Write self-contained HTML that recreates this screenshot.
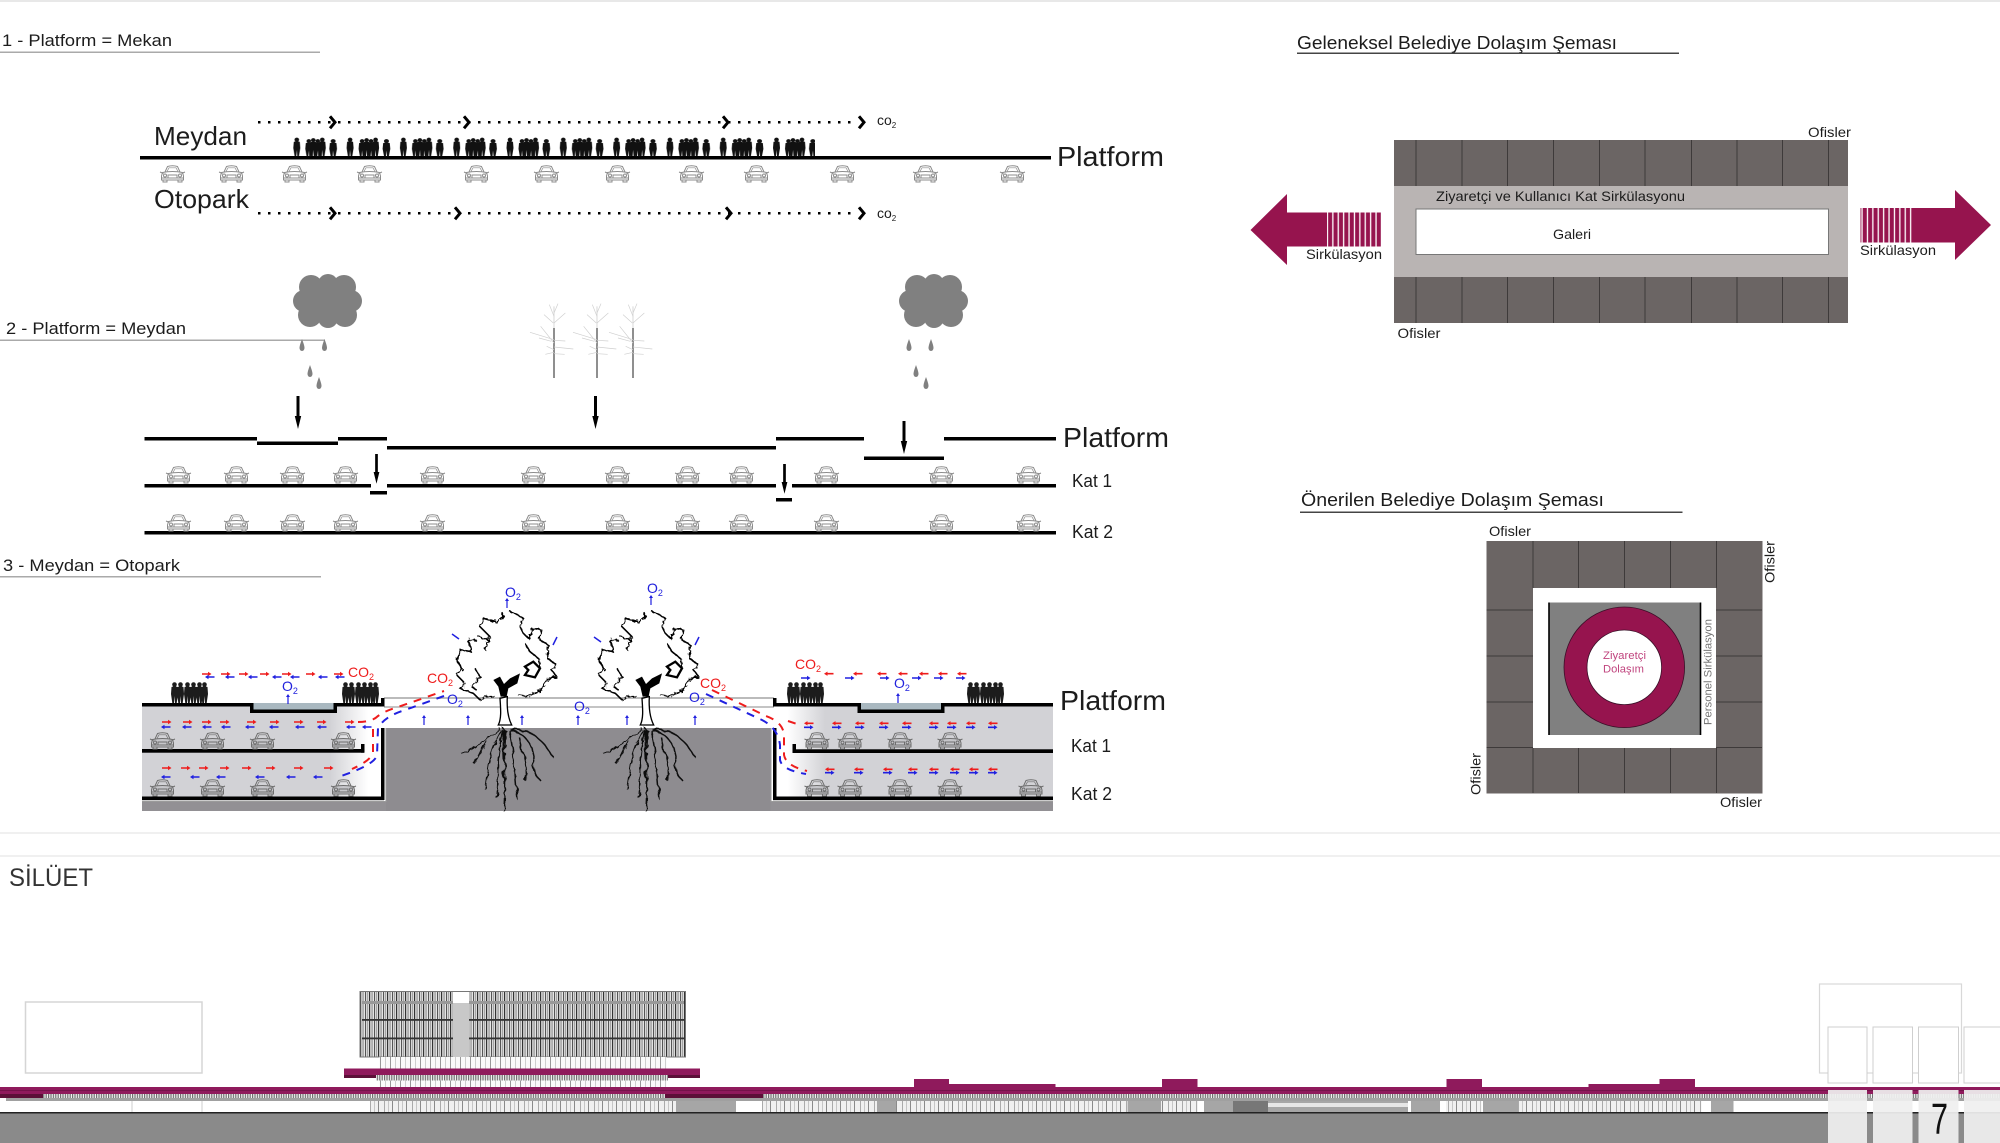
<!DOCTYPE html>
<html><head><meta charset="utf-8"><title>Platform diagram</title>
<style>html,body{margin:0;padding:0;background:#fff}svg{display:block}text{font-family:"Liberation Sans",sans-serif;fill:#1c1c1c}</style>
</head><body>
<svg width="2000" height="1143" viewBox="0 0 2000 1143" xmlns="http://www.w3.org/2000/svg">
<defs>
<g id="car" stroke-width="1">
<path fill="none" d="M5 7 L7.500 1.500 Q12.500 0 17.500 1.500 L20 7"/>
<path d="M2.500 7.500 Q12.500 5.500 22.500 7.500 L23.500 11 V15 H1.500 V11Z"/>
<path fill="none" d="M7 6.500 L9 2.800 H16 L18 6.500" stroke-width=".7"/>
<path fill="none" d="M0 7 L3.500 8.500 M25 7 L21.500 8.500 M8 10 H17 V13 H8Z M2 13 H23"/>
<circle cx="5" cy="10.500" r="1.500" fill="none"/><circle cx="20" cy="10.500" r="1.500" fill="none"/>
<path fill="none" d="M3 15 V17 H7 V15 M18 15 V17 H22 V15"/>
</g>
<g id="p"><circle cx="3.500" cy="2.500" r="2.300"/><path d="M0.500 5 Q3.500 3.500 6.500 5 L7 12 L5.700 21 H4 L3.500 14 L3 21 H1.300 L0 12Z"/></g>
<pattern id="crowd" x="293.300" y="137.500" width="53.300" height="19" patternUnits="userSpaceOnUse">
<g fill="#111"><use href="#p" transform="translate(0,0) scale(1,.88)"/><use href="#p" transform="translate(12,1.500) scale(1,.82)"/><use href="#p" transform="translate(16.500,0.500) scale(1,.86)"/><use href="#p" transform="translate(21,1.500) scale(1,.82)"/><use href="#p" transform="translate(25.500,0) scale(1,.88)"/><use href="#p" transform="translate(36,1.500) scale(1.100,.82)"/></g>
</pattern>
<pattern id="stripeW" width="5.400" height="10" patternUnits="userSpaceOnUse"><rect width="5.400" height="10" fill="#96144e"/><rect x="3.800" width="1.300" height="10" fill="#fff"/></pattern>
<pattern id="facade" x="360" width="9" height="10" patternUnits="userSpaceOnUse"><rect width="9" height="10" fill="#e4e4e4"/><rect x="0" width="1.200" height="10" fill="#333"/><rect x="2.600" width=".9" height="10" fill="#777"/><rect x="5" width="1.100" height="10" fill="#555"/><rect x="7.300" width=".8" height="10" fill="#888"/></pattern>
<pattern id="louver" width="2.400" height="10" patternUnits="userSpaceOnUse"><rect width="2.400" height="10" fill="#f4f4f4"/><rect width="1.200" height="10" fill="#6f6f6f"/></pattern>
<pattern id="store" width="14" height="12" patternUnits="userSpaceOnUse"><rect width="14" height="12" fill="#f0f0f0"/><rect width="1" height="12" fill="#8a8a8a"/><rect x="6" width="1" height="12" fill="#aaa"/><rect x="10" width=".8" height="12" fill="#bbb"/></pattern>
<pattern id="col" width="10" height="12" patternUnits="userSpaceOnUse"><rect width="10" height="12" fill="#fafafa"/><rect width="1" height="12" fill="#999"/><rect x="5" width=".7" height="12" fill="#bbb"/></pattern>
<linearGradient id="glowL" x1="0" x2="1" y1="0" y2="0"><stop offset="0" stop-color="#d2d2d6"/><stop offset=".75" stop-color="#fff"/><stop offset="1" stop-color="#fff"/></linearGradient>
<linearGradient id="glowR" x1="1" x2="0" y1="0" y2="0"><stop offset="0" stop-color="#d2d2d6"/><stop offset=".75" stop-color="#fff"/><stop offset="1" stop-color="#fff"/></linearGradient>
<filter id="wig" x="-10%" y="-10%" width="120%" height="120%"><feTurbulence type="fractalNoise" baseFrequency=".09" numOctaves="2" seed="4"/><feDisplacementMap in="SourceGraphic" scale="14"/></filter>
<filter id="wig2" x="-20%" y="-10%" width="140%" height="120%"><feTurbulence type="fractalNoise" baseFrequency=".12" numOctaves="2" seed="9"/><feDisplacementMap in="SourceGraphic" scale="7"/></filter>
<filter id="grass" x="-2%" y="-300%" width="104%" height="700%"><feTurbulence type="fractalNoise" baseFrequency=".5" numOctaves="2" seed="2"/><feDisplacementMap in="SourceGraphic" scale="4"/></filter>
<path id="ra" d="M0 -.8H6V-2.200L9.500 0 6 2.200V.8H0Z" fill="#ee1c1c"/>
<path id="ba" d="M9.500 -.8H3.500V-2.200L0 0 3.500 2.200V.8H9.500Z" fill="#2020e0"/>
<path id="rl" d="M9.500 -.8H3.500V-2.200L0 0 3.500 2.200V.8H9.500Z" fill="#ee1c1c"/>
<path id="br" d="M0 -.8H6V-2.200L9.500 0 6 2.200V.8H0Z" fill="#2020e0"/>
<path id="ua" d="M-.6 10V3H-2L0 0 2 3H.6V10Z" fill="#2020e0"/>
<path id="dn" d="M-1.500 0H1.500V20H3.200L0 33 -3.200 20H-1.500Z" fill="#000"/>
<path id="chev" d="M-3 -6 L2 0 L-3 6" fill="none" stroke="#000" stroke-width="3"/>
<path id="drop" d="M0 -6 C1.500 -2 2.500 1 2.500 3 A2.500 3 0 0 1 -2.500 3 C-2.500 1 -1.500 -2 0 -6Z" fill="#808080"/>
<g id="cloud" fill="#808080"><circle cx="35" cy="27" r="22"/><circle cx="18" cy="13" r="12"/><circle cx="35" cy="10" r="10"/><circle cx="51" cy="13" r="12"/><circle cx="11" cy="27" r="11"/><circle cx="58" cy="27" r="11"/><circle cx="17" cy="41" r="12"/><circle cx="52" cy="41" r="12"/><circle cx="35" cy="44" r="10"/></g>
<g id="btree" fill="none" transform="scale(.3333)">
<path d="M0 -110 V-45" stroke="#c4c4c4" stroke-width="2"/>
<path d="M0 -45 V105" stroke="#444" stroke-width="3.600"/>
<path d="M0 -10 L-72 -32 M0 0 L-40 -50 M-2 -60 L-30 -85 M0 -60 L34 -90 M0 -8 L34 -6 M0 12 L58 18 M0 32 L32 34 M0 28 L-26 34 M-8 -5 L-45 -15 M0 -80 L-14 -115 M0 -90 L12 -118 M0 20 L-22 10" stroke="#cfcfcf" stroke-width="2"/>
</g>
<g id="canopy" transform="scale(.3333)">
<g fill="none" stroke="#000" stroke-width="4.800" stroke-linejoin="round" filter="url(#wig)">
<path d="M185 95 L190 110 L165 125 L130 115 L120 140 L150 170 L135 210"/>
<path d="M110 180 L85 180 L95 215 L65 210 L50 240 L65 265 L50 285 L75 310 L60 325 L100 340 L120 360 L135 350 L165 350"/>
<path d="M210 95 L225 100 L250 115 L240 140 L250 160 L265 175 L280 145 L305 150 L300 180 L325 195 L322 235 L350 255 L335 270 L350 290 L325 295 L310 315 L300 335 L260 348 L235 345"/>
<path d="M105 265 L120 290 L95 320 L110 330"/>
<path d="M255 190 L270 215 L295 235 L300 265"/>
<path d="M115 170 L145 180"/>
</g>
<path d="M255 260 L280 245 L300 265 L285 292 L255 285 L265 270Z" fill="none" stroke="#000" stroke-width="7"/>
<path d="M180 355 C182 385 185 415 175 435 H215 C205 415 200 385 202 350 Z" fill="#fff" stroke="#000" stroke-width="4"/>
<path d="M160 300 L180 290 L192 312 L210 295 L240 280 L232 310 L205 325 L200 350 H182 L175 320Z" fill="#000"/>
</g>
<g id="roots" fill="none" stroke="#111" stroke-width="1.500" filter="url(#wig2)">
<path d="M0 0 C-3 20 2 40 -1 82" stroke-width="1.800"/><path d="M-4 0 C-20 8 -30 20 -44 24"/><path d="M-3 2 C-12 18 -16 30 -20 60"/><path d="M-1 2 C-8 25 -6 40 -8 70"/><path d="M3 0 C10 20 8 40 12 70"/><path d="M4 0 C20 4 30 15 30 40 C30 45 32 48 34 50"/><path d="M5 0 C25 0 38 10 48 28"/><path d="M-18 12 C-24 18 -26 30 -32 34"/><path d="M14 8 C16 20 22 34 20 52"/>
</g>
</defs>
<rect width="2000" height="1143" fill="#fff"/>
<rect y="0" width="2000" height="2" fill="#e8e8e8"/>
<rect y="832.500" width="2000" height="1" fill="#e2e2e2"/>
<rect y="855.500" width="2000" height="1" fill="#e2e2e2"/>

<!-- section 1 -->
<text x="2" y="46" font-size="17" textLength="170" lengthAdjust="spacingAndGlyphs">1 - Platform = Mekan</text>
<rect x="0" y="51.500" width="320" height="1.500" fill="#aaa"/>
<text x="154" y="145" font-size="26" textLength="93" lengthAdjust="spacingAndGlyphs">Meydan</text>
<text x="154" y="208" font-size="26" textLength="95" lengthAdjust="spacingAndGlyphs">Otopark</text>
<rect x="140" y="156" width="911" height="3.500" fill="#000"/>
<rect x="293" y="137.500" width="522" height="19" fill="url(#crowd)"/>
<path d="M258 122.300H858M258 213.300H858" stroke="#000" stroke-width="2.500" stroke-dasharray="2.500 7.500"/>
<use href="#chev" x="333" y="122.300"/><use href="#chev" x="467" y="122.300"/><use href="#chev" x="726" y="122.300"/><use href="#chev" x="862" y="122.300"/>
<use href="#chev" x="333" y="213.300"/><use href="#chev" x="458" y="213.300"/><use href="#chev" x="729" y="213.300"/><use href="#chev" x="862" y="213.300"/>
<text x="877" y="125" font-size="14">co<tspan dy="3" font-size="8">2</tspan></text>
<text x="877" y="218" font-size="14">co<tspan dy="3" font-size="8">2</tspan></text>
<text x="1057" y="166" font-size="28" textLength="107" lengthAdjust="spacingAndGlyphs">Platform</text>
<g stroke="#8c8c8c" fill="#fff">
<use href="#car" x="160" y="165"/><use href="#car" x="219" y="165"/><use href="#car" x="282" y="165"/><use href="#car" x="357" y="165"/><use href="#car" x="464" y="165"/><use href="#car" x="534" y="165"/><use href="#car" x="605" y="165"/><use href="#car" x="679" y="165"/><use href="#car" x="744" y="165"/><use href="#car" x="830" y="165"/><use href="#car" x="913" y="165"/><use href="#car" x="1000" y="165"/>
</g>

<!-- section 2 -->
<text x="6" y="334" font-size="17" textLength="180" lengthAdjust="spacingAndGlyphs">2 - Platform = Meydan</text>
<rect x="0" y="339.500" width="325" height="1.500" fill="#aaa"/>
<use href="#cloud" x="293" y="274"/><use href="#cloud" x="899" y="274"/>
<use href="#drop" x="302" y="345"/><use href="#drop" x="324.500" y="345"/><use href="#drop" x="310" y="371"/><use href="#drop" x="319" y="383"/>
<use href="#drop" x="909" y="345"/><use href="#drop" x="931" y="345"/><use href="#drop" x="916" y="371"/><use href="#drop" x="926" y="383"/>
<use href="#btree" x="554" y="343"/><use href="#btree" x="597" y="343"/><use href="#btree" x="633" y="343"/>
<use href="#dn" x="298" y="396"/><use href="#dn" x="595.500" y="396"/><use href="#dn" x="904" y="421"/>
<use href="#dn" transform="translate(376.500,454) scale(.9)"/><use href="#dn" transform="translate(784.500,464) scale(.9)"/>
<g fill="#000">
<rect x="144.500" y="437" width="112.500" height="3.500"/><rect x="257" y="441.500" width="81" height="3.500"/><rect x="338" y="437" width="49" height="3.500"/><rect x="387" y="446" width="389" height="3.500"/><rect x="776" y="437" width="88" height="3.500"/><rect x="864" y="456.500" width="80" height="3.500"/><rect x="944" y="437" width="112" height="3.500"/>
<rect x="144.500" y="484" width="226.500" height="3.500"/><rect x="387" y="484" width="389" height="3.500"/><rect x="792" y="484" width="264" height="3.500"/>
<rect x="370" y="491" width="17" height="3.500"/><rect x="776" y="498" width="16" height="3.500"/>
<rect x="144.500" y="531" width="911.500" height="3.500"/>
</g>
<text x="1063" y="447" font-size="28" textLength="106" lengthAdjust="spacingAndGlyphs">Platform</text>
<text x="1072" y="487" font-size="18" textLength="40" lengthAdjust="spacingAndGlyphs">Kat 1</text>
<text x="1072" y="538" font-size="18" textLength="41" lengthAdjust="spacingAndGlyphs">Kat 2</text>
<g stroke="#8c8c8c" fill="#fff">
<use href="#car" x="166" y="466"/><use href="#car" x="224" y="466"/><use href="#car" x="280" y="466"/><use href="#car" x="333" y="466"/><use href="#car" x="420" y="466"/><use href="#car" x="521" y="466"/><use href="#car" x="605" y="466"/><use href="#car" x="675" y="466"/><use href="#car" x="729" y="466"/><use href="#car" x="814" y="466"/><use href="#car" x="929" y="466"/><use href="#car" x="1016" y="466"/>
<use href="#car" x="166" y="514"/><use href="#car" x="224" y="514"/><use href="#car" x="280" y="514"/><use href="#car" x="333" y="514"/><use href="#car" x="420" y="514"/><use href="#car" x="521" y="514"/><use href="#car" x="605" y="514"/><use href="#car" x="675" y="514"/><use href="#car" x="729" y="514"/><use href="#car" x="814" y="514"/><use href="#car" x="929" y="514"/><use href="#car" x="1016" y="514"/>
</g>

<!-- section 3 -->
<text x="3" y="571" font-size="17" textLength="177" lengthAdjust="spacingAndGlyphs">3 - Meydan  = Otopark</text>
<rect x="0" y="576" width="321" height="1.500" fill="#aaa"/>
<rect x="142" y="705" width="239" height="93" fill="#d2d2d6"/>
<rect x="330" y="705" width="51" height="93" fill="url(#glowL)"/>
<rect x="775" y="705" width="278" height="93" fill="#d2d2d6"/>
<rect x="775" y="705" width="50" height="93" fill="url(#glowR)"/>
<rect x="142" y="802" width="911" height="9" fill="#929094"/>
<rect x="386" y="728" width="384.500" height="83" fill="#8e8c90"/>
<path d="M386 728V801.500H142" fill="none" stroke="#9a9a9a" stroke-width="1"/>
<path d="M771 728V801.500H1053" fill="none" stroke="#9a9a9a" stroke-width="1"/>
<rect x="384" y="697" width="390" height="2" fill="#bbb"/>
<rect x="384" y="706.500" width="390" height="1" fill="#888"/>
<path d="M386 727H770" stroke="#222" stroke-width="2.500" filter="url(#grass)"/>
<rect x="253" y="703" width="81" height="7" fill="#a9b8c0"/>
<rect x="860" y="703" width="82" height="7" fill="#a9b8c0"/>
<g fill="#000">
<rect x="142" y="703" width="111.500" height="3.500"/><rect x="250" y="703" width="3.500" height="10"/><rect x="250" y="709.500" width="87" height="3.500"/><rect x="333.500" y="703" width="3.500" height="10"/>
<rect x="337" y="703" width="47" height="3.500"/><rect x="381" y="698" width="3.500" height="8.500"/>
<rect x="381" y="728" width="3.500" height="72"/><rect x="142" y="796.500" width="242" height="3.700"/><rect x="142" y="749" width="222" height="3.700"/><rect x="361" y="744" width="3.500" height="8.700"/>
<rect x="773" y="703" width="88" height="3.500"/><rect x="773" y="698" width="3.500" height="8.500"/><rect x="857.500" y="703" width="3.500" height="10"/><rect x="857.500" y="709.500" width="87" height="3.500"/><rect x="941" y="703" width="3.500" height="10"/><rect x="941" y="703" width="112" height="3.500"/>
<rect x="773" y="728" width="3.500" height="72"/><rect x="773" y="796.500" width="280" height="3.700"/><rect x="792.500" y="749.300" width="260.500" height="3.700"/><rect x="792.500" y="744" width="3.500" height="9"/>
</g>
<g fill="#1c1c1c">
<use href="#p" x="171" y="682"/><use href="#p" x="177" y="682"/><use href="#p" x="184" y="682"/><use href="#p" x="190" y="682"/><use href="#p" x="196" y="682"/><use href="#p" x="201" y="682"/>
<use href="#p" x="342" y="682"/><use href="#p" x="348" y="682"/><use href="#p" x="355" y="682"/><use href="#p" x="361" y="682"/><use href="#p" x="367" y="682"/><use href="#p" x="372" y="682"/>
<use href="#p" x="787" y="682"/><use href="#p" x="793" y="682"/><use href="#p" x="800" y="682"/><use href="#p" x="806" y="682"/><use href="#p" x="812" y="682"/><use href="#p" x="817" y="682"/>
<use href="#p" x="967" y="682"/><use href="#p" x="973" y="682"/><use href="#p" x="980" y="682"/><use href="#p" x="986" y="682"/><use href="#p" x="992" y="682"/><use href="#p" x="997" y="682"/>
</g>
<g stroke="#6e6e6e" fill="#c6c6ca">
<use href="#car" x="150" y="732"/><use href="#car" x="200" y="732"/><use href="#car" x="250" y="732"/><use href="#car" x="331" y="732"/>
<use href="#car" x="150" y="779"/><use href="#car" x="200" y="779"/><use href="#car" x="250" y="779"/><use href="#car" x="331" y="779"/>
<use href="#car" x="804.500" y="732"/><use href="#car" x="837.500" y="732"/><use href="#car" x="887.500" y="732"/><use href="#car" x="937.500" y="732"/>
<use href="#car" x="804.500" y="779"/><use href="#car" x="837.500" y="779"/><use href="#car" x="887.500" y="779"/><use href="#car" x="937.500" y="779"/><use href="#car" x="1018.500" y="779"/>
</g>
<!-- trees -->
<use href="#canopy" x="440" y="580"/><use href="#canopy" x="582" y="580"/>
<use href="#roots" x="505" y="729"/><use href="#roots" x="647" y="729"/>
<!-- labels -->
<g font-size="14">
<text x="505" y="597" style="fill:#2222dd">O<tspan dy="3" font-size="9">2</tspan></text>
<text x="647" y="593" style="fill:#2222dd">O<tspan dy="3" font-size="9">2</tspan></text>
<text x="282" y="691" style="fill:#2222dd">O<tspan dy="3" font-size="9">2</tspan></text>
<text x="447" y="704" style="fill:#2222dd">O<tspan dy="3" font-size="9">2</tspan></text>
<text x="574" y="711" style="fill:#2222dd">O<tspan dy="3" font-size="9">2</tspan></text>
<text x="689" y="702" style="fill:#2222dd">O<tspan dy="3" font-size="9">2</tspan></text>
<text x="894" y="688" style="fill:#2222dd">O<tspan dy="3" font-size="9">2</tspan></text>
<text x="348" y="677" style="fill:#ee1c1c">CO<tspan dy="3" font-size="9">2</tspan></text>
<text x="427" y="683" style="fill:#ee1c1c">CO<tspan dy="3" font-size="9">2</tspan></text>
<text x="795" y="669" style="fill:#ee1c1c">CO<tspan dy="3" font-size="9">2</tspan></text>
<text x="700" y="688" style="fill:#ee1c1c">CO<tspan dy="3" font-size="9">2</tspan></text>
</g>
<text x="1060" y="710" font-size="28" textLength="106" lengthAdjust="spacingAndGlyphs">Platform</text>
<text x="1071" y="752" font-size="18" textLength="40" lengthAdjust="spacingAndGlyphs">Kat 1</text>
<text x="1071" y="800" font-size="18" textLength="41" lengthAdjust="spacingAndGlyphs">Kat 2</text>
<!-- ticks -->
<path d="M452 634L459 639M557 637L553 645M594 637L601 642M699 637L695 645" stroke="#2020e0" stroke-width="1.500"/>
<use href="#ua" x="507" y="598"/><use href="#ua" x="651" y="595"/><use href="#ua" x="288" y="694"/><use href="#ua" x="898" y="693"/>
<use href="#ua" x="424" y="715"/><use href="#ua" x="468" y="715"/><use href="#ua" x="522" y="715"/><use href="#ua" x="578" y="715"/><use href="#ua" x="627" y="715"/><use href="#ua" x="695" y="715"/>
<!-- dashed curves -->
<g fill="none" stroke-width="2" stroke-dasharray="8 7">
<path stroke="#ee1c1c" d="M358 722 Q372 722 378 716 Q385 711 395 708 L444 691"/>
<path stroke="#ee1c1c" d="M373 729 L373 752 Q372 760 352 769"/>
<path stroke="#2020e0" d="M444 696 L405 710 Q385 716 378 728 L377 755 Q375 765 338 777"/>
<path stroke="#ee1c1c" d="M712 690 L766 716 Q783 722 784 735 L784 755 Q786 766 807 771"/>
<path stroke="#2020e0" d="M706 694 L762 720 Q778 728 780 745 L780 760 Q782 770 806 774"/>
<path stroke="#ee1c1c" d="M788 721 L797 724"/>
</g>
<!-- left rows -->
<g>
<use href="#ra" x="202" y="674"/><use href="#ra" x="221" y="674"/><use href="#ra" x="239" y="674"/><use href="#ra" x="260" y="674"/><use href="#ra" x="282" y="674"/><use href="#ra" x="306" y="674"/><use href="#ra" x="334" y="674"/>
<use href="#ba" x="205" y="677"/><use href="#ba" x="225" y="677"/><use href="#ba" x="248" y="677"/><use href="#ba" x="272" y="677"/><use href="#ba" x="290" y="677"/><use href="#ba" x="318" y="677"/><use href="#ba" x="335" y="677"/>
<use href="#ra" x="162" y="722"/><use href="#ra" x="183" y="722"/><use href="#ra" x="202" y="722"/><use href="#ra" x="220" y="722"/><use href="#ra" x="247" y="722"/><use href="#ra" x="270" y="722"/><use href="#ra" x="294" y="722"/><use href="#ra" x="317" y="722"/><use href="#ra" x="345" y="722"/>
<use href="#ba" x="161" y="727"/><use href="#ba" x="182" y="727"/><use href="#ba" x="202" y="727"/><use href="#ba" x="221" y="727"/><use href="#ba" x="245" y="727"/><use href="#ba" x="269" y="727"/><use href="#ba" x="295" y="727"/><use href="#ba" x="317" y="727"/><use href="#ba" x="346" y="727"/><use href="#ba" x="362" y="727"/>
<use href="#ra" x="162" y="768"/><use href="#ra" x="181" y="768"/><use href="#ra" x="199" y="768"/><use href="#ra" x="220" y="768"/><use href="#ra" x="242" y="768"/><use href="#ra" x="266" y="768"/><use href="#ra" x="294" y="768"/><use href="#ra" x="324" y="768"/>
<use href="#ba" x="161" y="777"/><use href="#ba" x="190" y="777"/><use href="#ba" x="216" y="777"/><use href="#ba" x="255" y="777"/><use href="#ba" x="286" y="777"/><use href="#ba" x="313" y="777"/>
<!-- right rows -->
<use href="#rl" x="824" y="673.700"/><use href="#rl" x="853" y="673.700"/><use href="#rl" x="877" y="673.700"/><use href="#rl" x="898" y="673.700"/><use href="#rl" x="919" y="673.700"/><use href="#rl" x="938" y="673.700"/><use href="#rl" x="957" y="673.700"/>
<use href="#br" x="801" y="678"/><use href="#br" x="845" y="678"/><use href="#br" x="880" y="678"/><use href="#br" x="912" y="678"/><use href="#br" x="934" y="678"/><use href="#br" x="956" y="678"/>
<use href="#rl" x="804" y="723.300"/><use href="#rl" x="832" y="723.300"/><use href="#rl" x="855" y="723.300"/><use href="#rl" x="879" y="723.300"/><use href="#rl" x="902" y="723.300"/><use href="#rl" x="929" y="723.300"/><use href="#rl" x="947" y="723.300"/><use href="#rl" x="966" y="723.300"/><use href="#rl" x="988" y="723.300"/>
<use href="#br" x="804" y="727.300"/><use href="#br" x="832" y="727.300"/><use href="#br" x="855" y="727.300"/><use href="#br" x="879" y="727.300"/><use href="#br" x="902" y="727.300"/><use href="#br" x="929" y="727.300"/><use href="#br" x="947" y="727.300"/><use href="#br" x="966" y="727.300"/><use href="#br" x="988" y="727.300"/>
<use href="#rl" x="825" y="769.300"/><use href="#rl" x="854" y="769.300"/><use href="#rl" x="883" y="769.300"/><use href="#rl" x="908" y="769.300"/><use href="#rl" x="929" y="769.300"/><use href="#rl" x="950" y="769.300"/><use href="#rl" x="969" y="769.300"/><use href="#rl" x="988" y="769.300"/>
<use href="#br" x="825" y="772.700"/><use href="#br" x="854" y="772.700"/><use href="#br" x="883" y="772.700"/><use href="#br" x="908" y="772.700"/><use href="#br" x="929" y="772.700"/><use href="#br" x="950" y="772.700"/><use href="#br" x="969" y="772.700"/><use href="#br" x="988" y="772.700"/>
</g>

<!-- top right diagram -->
<text x="1297" y="49" font-size="18.500" textLength="320" lengthAdjust="spacingAndGlyphs">Geleneksel Belediye  Dolaşım Şeması</text>
<rect x="1297" y="52.500" width="382" height="1.500" fill="#444"/>
<rect x="1394" y="140" width="454" height="183" fill="#6b6564"/>
<rect x="1394" y="186" width="454" height="91" fill="#b9b4b3"/>
<g stroke="#3e3a3a" stroke-width="1">
<path d="M1416 140V186M1462 140V186M1507.500 140V186M1553.500 140V186M1599.500 140V186M1645 140V186M1691.500 140V186M1737 140V186M1782.500 140V186M1828.500 140V186"/>
<path d="M1416 277V323M1462 277V323M1507.500 277V323M1553.500 277V323M1599.500 277V323M1645 277V323M1691.500 277V323M1737 277V323M1782.500 277V323M1828.500 277V323"/>
</g>
<rect x="1416" y="209" width="412.500" height="45.500" fill="#fff" stroke="#777" stroke-width="1"/>
<text x="1436" y="201" font-size="14" textLength="249" lengthAdjust="spacingAndGlyphs">Ziyaretçi ve Kullanıcı  Kat Sirkülasyonu</text>
<text x="1553" y="239" font-size="14" textLength="38" lengthAdjust="spacingAndGlyphs">Galeri</text>
<text x="1808" y="137" font-size="14" textLength="43" lengthAdjust="spacingAndGlyphs">Ofisler</text>
<text x="1397.500" y="338" font-size="14" textLength="43" lengthAdjust="spacingAndGlyphs">Ofisler</text>
<path d="M1250.500 230L1287 194V212.500H1327V246.500H1287V265Z" fill="#96144e"/>
<rect x="1327" y="212.500" width="54" height="34" fill="url(#stripeW)"/>
<path d="M1991 225L1955 190V208H1914V242.500H1955V260Z" fill="#96144e"/>
<rect x="1860.500" y="208" width="53.500" height="34.500" fill="url(#stripeW)"/>
<text x="1306" y="259" font-size="14" textLength="76" lengthAdjust="spacingAndGlyphs">Sirkülasyon</text>
<text x="1860" y="255" font-size="14" textLength="76" lengthAdjust="spacingAndGlyphs">Sirkülasyon</text>

<!-- lower right diagram -->
<text x="1301" y="506" font-size="18.500" textLength="303" lengthAdjust="spacingAndGlyphs">Önerilen Belediye   Dolaşım Şeması</text>
<rect x="1300" y="511.500" width="382.500" height="1.500" fill="#444"/>
<rect x="1486.500" y="541" width="276" height="252.500" fill="#6b6564"/>
<rect x="1533" y="588" width="183" height="160" fill="#fff"/>
<rect x="1549" y="602.500" width="152" height="132.500" fill="#808080"/>
<path d="M1549 602.500V735M1700.500 602.500V735" stroke="#000" stroke-width="1.600"/>
<circle cx="1624.300" cy="667.300" r="48.800" fill="none" stroke="#96144e" stroke-width="23"/>
<circle cx="1624.300" cy="667.300" r="60.300" fill="none" stroke="#3a1028" stroke-width=".8"/>
<circle cx="1624.300" cy="667.300" r="37.300" fill="#fff" stroke="#3a1028" stroke-width=".8"/>
<g stroke="#3e3a3a" stroke-width="1">
<path d="M1533 541V588M1578.500 541V588M1624.500 541V588M1670.500 541V588M1716.500 541V588"/>
<path d="M1533 748V793M1578.500 748V793M1624.500 748V793M1670.500 748V793M1716.500 748V793"/>
<path d="M1486.500 610H1533M1486.500 656H1533M1486.500 702H1533M1486.500 747.500H1533"/>
<path d="M1716 610H1762M1716 656H1762M1716 702H1762M1716 747.500H1762"/>
</g>
<text x="1489" y="536" font-size="14" textLength="42" lengthAdjust="spacingAndGlyphs">Ofisler</text>
<text x="1720" y="807" font-size="14" textLength="42" lengthAdjust="spacingAndGlyphs">Ofisler</text>
<text transform="translate(1774.500,583) rotate(-90)" font-size="14" textLength="42" lengthAdjust="spacingAndGlyphs">Ofisler</text>
<text transform="translate(1480.500,795) rotate(-90)" font-size="14" textLength="42" lengthAdjust="spacingAndGlyphs">Ofisler</text>
<text x="1603" y="659" font-size="11" textLength="43" lengthAdjust="spacingAndGlyphs" style="fill:#c0447e">Ziyaretçi</text>
<text x="1603" y="672.500" font-size="11" textLength="41" lengthAdjust="spacingAndGlyphs" style="fill:#c0447e">Dolaşım</text>
<text transform="translate(1711.500,725) rotate(-90)" font-size="11" textLength="106" lengthAdjust="spacingAndGlyphs" style="fill:#777">Personel Sirkülasyon</text>

<!-- silhouette -->
<text x="9" y="886" font-size="25" textLength="84" lengthAdjust="spacingAndGlyphs" style="fill:#333">SİLÜET</text>
<rect x="25.500" y="1002" width="176.500" height="71" fill="none" stroke="#d5d5d5" stroke-width="1.500"/>
<rect x="360" y="991.500" width="325.500" height="65.500" fill="url(#facade)" stroke="#777"/>
<rect x="362" y="1001" width="322" height="3" fill="#999"/>
<rect x="362" y="1019" width="322" height="1.800" fill="#333"/>
<rect x="362" y="1037.500" width="322" height="1.800" fill="#333"/>
<rect x="453" y="992" width="16" height="11" fill="#fff"/>
<rect x="453" y="1003" width="16" height="54" fill="#c8c8c8"/>
<rect x="379.500" y="1057" width="287" height="12" fill="url(#col)"/>
<rect x="379.500" y="1080" width="287" height="7" fill="url(#col)"/>
<rect x="344" y="1068.500" width="356" height="9.500" fill="#8f1a5c"/>
<rect x="344" y="1075" width="32" height="3" fill="#5c1038"/><rect x="668" y="1075" width="32" height="3" fill="#5c1038"/>
<rect x="376" y="1075" width="292" height="5.500" fill="url(#louver)"/>
<g fill="#8f1a5c">
<rect x="914" y="1079" width="35" height="8"/><rect x="949" y="1084" width="106.500" height="3"/><rect x="1162" y="1079" width="35.500" height="8"/><rect x="1446.500" y="1079" width="35.500" height="8"/><rect x="1588.500" y="1084" width="71" height="3"/><rect x="1659.500" y="1079" width="35.500" height="8"/>
<rect x="0" y="1087" width="2000" height="7"/>
</g>
<rect x="0" y="1090" width="2000" height=".8" fill="#6e1246"/>
<rect x="0" y="1094" width="2000" height="4" fill="url(#louver)"/>
<rect x="0" y="1094" width="43" height="4" fill="#5c1038"/>
<rect x="665" y="1094" width="98" height="4" fill="#5c1038"/>
<rect x="6" y="1098" width="1994" height="3" fill="#a0a0a0"/>
<rect x="370" y="1101" width="306" height="11" fill="url(#store)"/>
<rect x="676" y="1101" width="60" height="11" fill="#a6a6a6"/>
<rect x="762" y="1101" width="115" height="11" fill="url(#store)"/>
<rect x="877" y="1101" width="19" height="11" fill="#a6a6a6"/>
<rect x="896" y="1101" width="231" height="11" fill="url(#store)"/>
<rect x="1127.500" y="1101" width="33.500" height="11" fill="#a6a6a6"/>
<rect x="1161" y="1101" width="37" height="11" fill="url(#store)"/>
<rect x="1204" y="1101" width="29" height="11" fill="#a6a6a6"/>
<rect x="1233" y="1101" width="35" height="11" fill="#777"/>
<rect x="1268" y="1101" width="140" height="11" fill="#a6a6a6"/>
<rect x="1268" y="1103" width="140" height="4" fill="#e6e6e6"/>
<rect x="1411" y="1101" width="29" height="11" fill="#a6a6a6"/>
<rect x="1446" y="1101" width="35.500" height="11" fill="url(#store)"/>
<rect x="1483" y="1101" width="35" height="11" fill="#a6a6a6"/>
<rect x="1518" y="1101" width="183.500" height="11" fill="url(#store)"/>
<rect x="1711" y="1101" width="22.500" height="11" fill="#a6a6a6"/>
<path d="M132 1101V1112M202 1101V1112" stroke="#ccc"/>
<rect x="0" y="1113" width="2000" height="30" fill="#8a8a8a"/>
<rect x="0" y="1112" width="2000" height="1.500" fill="#222"/>
<!-- right overlay -->
<rect x="1819.500" y="984" width="142" height="89" fill="none" stroke="#d8d8d8" stroke-width="1.200"/>
<g fill="#fff" stroke="#cfcfcf" stroke-width="1">
<rect x="1828" y="1027" width="39" height="56"/><rect x="1873" y="1027" width="39.500" height="56"/><rect x="1918.500" y="1027" width="40" height="56"/><rect x="1964" y="1027" width="37" height="56"/>
</g>
<g fill="#efefef" fill-opacity=".93">
<rect x="1828" y="1090" width="39" height="53"/><rect x="1873" y="1090" width="39.500" height="53"/><rect x="1918.500" y="1090" width="40" height="53"/><rect x="1964" y="1090" width="36" height="53"/>
</g>
<text x="1931" y="1134" font-size="44" textLength="17" lengthAdjust="spacingAndGlyphs" style="fill:#111">7</text>
</svg>
</body></html>
